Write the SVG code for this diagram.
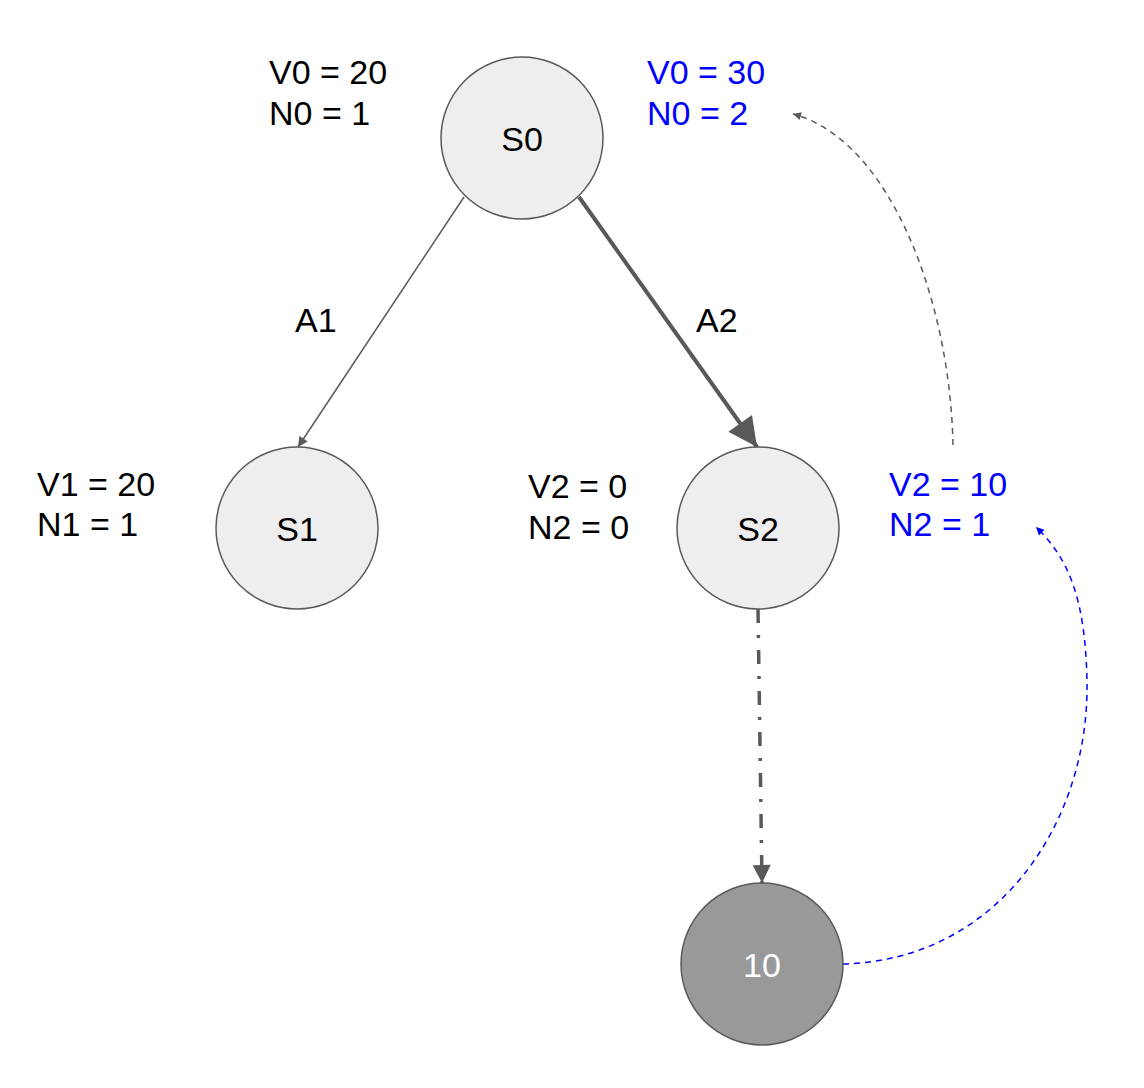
<svg xmlns="http://www.w3.org/2000/svg" width="1144" height="1088" viewBox="0 0 1144 1088">
<style>
.lbl{font-family:"Liberation Sans",Arial,sans-serif;font-size:34px;fill:#000}
.blue{fill:#0000ff}
.nt{font-family:"Liberation Sans",Arial,sans-serif;font-size:34px;text-anchor:middle}
.node{fill:#eeeeee;stroke:#595959;stroke-width:1.5}
.term{fill:#999999;stroke:#595959;stroke-width:1.5}
</style>
<defs>
<marker id="ahSmall" viewBox="0 0 10 10" refX="10" refY="5" markerWidth="11" markerHeight="10" markerUnits="userSpaceOnUse" orient="auto"><path d="M0,0 L10,5 L0,10 z" fill="#595959"/></marker>
<marker id="ah" viewBox="0 0 10 10" refX="10" refY="5" markerWidth="10" markerHeight="8" markerUnits="userSpaceOnUse" orient="auto"><path d="M0,0 L10,5 L0,10 z" fill="#595959"/></marker>
<marker id="ahBig" viewBox="0 0 10 10" refX="10" refY="5" markerWidth="34" markerHeight="29" markerUnits="userSpaceOnUse" orient="auto"><path d="M0,0 L10,5 L0,10 z" fill="#595959"/></marker>
<marker id="ahMid" viewBox="0 0 10 10" refX="10" refY="5" markerWidth="24" markerHeight="18" markerUnits="userSpaceOnUse" orient="auto"><path d="M0,0 L10,5 L0,10 z" fill="#595959"/></marker>
<marker id="ahBlue" viewBox="0 0 10 10" refX="10" refY="5" markerWidth="10" markerHeight="8" markerUnits="userSpaceOnUse" orient="auto"><path d="M0,0 L10,5 L0,10 z" fill="#0000ff"/></marker>
</defs>
<rect width="1144" height="1088" fill="#fff"/>
<g id="connectors" fill="none">
<line x1="464" y1="197" x2="298" y2="447" stroke="#595959" stroke-width="1.5" marker-end="url(#ahSmall)"/>
<line x1="579" y1="197" x2="757" y2="447" stroke="#595959" stroke-width="4" marker-end="url(#ahBig)"/>
<path d="M758,609 L762,883" stroke="#595959" stroke-width="3.5" stroke-dasharray="14,12,3,12" marker-end="url(#ahMid)"/>
<path d="M953,445 C950,300 890,140 793,114" stroke="#595959" stroke-width="1.5" stroke-dasharray="6,5" marker-end="url(#ah)"/>
<path d="M843,964 C1000,960 1090,820 1087,680 C1085,600 1070,560 1036,527" stroke="#0000ff" stroke-width="1.5" stroke-dasharray="6,5" marker-end="url(#ahBlue)"/>
</g>
<g id="S0"><circle class="node" cx="522" cy="138" r="81"/><text class="nt" x="522" y="151">S0</text></g>
<g id="S1"><circle class="node" cx="297" cy="528" r="81"/><text class="nt" x="297" y="541">S1</text></g>
<g id="S2"><circle class="node" cx="758" cy="528" r="81"/><text class="nt" x="758" y="541">S2</text></g>
<g id="T10"><circle class="term" cx="762" cy="964" r="81"/><text class="nt" x="762" y="977" fill="#fff">10</text></g>
<g id="labels">
<text class="lbl" x="269" y="84">V0 = 20</text>
<text class="lbl" x="269" y="125">N0 = 1</text>
<text class="lbl blue" x="647" y="84">V0 = 30</text>
<text class="lbl blue" x="647" y="125">N0 = 2</text>
<text class="lbl" x="37" y="496">V1 = 20</text>
<text class="lbl" x="37" y="536">N1 = 1</text>
<text class="lbl" x="528" y="498">V2 = 0</text>
<text class="lbl" x="528" y="539">N2 = 0</text>
<text class="lbl blue" x="889" y="496">V2 = 10</text>
<text class="lbl blue" x="889" y="536">N2 = 1</text>
<text class="lbl" x="295" y="332">A1</text>
<text class="lbl" x="696" y="332">A2</text>
</g>
</svg>
